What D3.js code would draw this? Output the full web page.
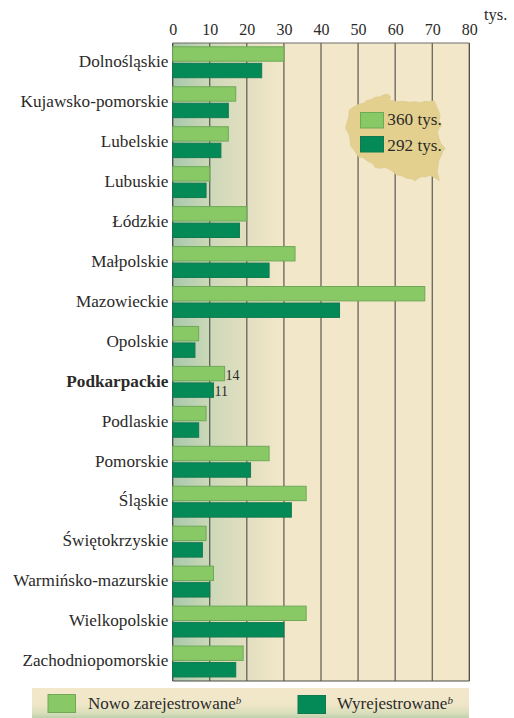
<!DOCTYPE html>
<html><head><meta charset="utf-8">
<script src="https://cdn.jsdelivr.net/npm/d3@7"></script>
<style>html,body{margin:0;padding:0;background:#fff}svg{display:block}text{font-family:"Liberation Serif",serif;fill:#2b2a29}</style>
</head><body><svg id="c" width="514" height="718"></svg>
<script>
const categories=["Dolnośląskie","Kujawsko-pomorskie","Lubelskie","Lubuskie","Łódzkie","Małpolskie","Mazowieckie","Opolskie","Podkarpackie","Podlaskie","Pomorskie","Śląskie","Świętokrzyskie","Warmińsko-mazurskie","Wielkopolskie","Zachodniopomorskie"];
const registered=[30,17,15,10,20,33,68,7,14,9,26,36,9,11,36,19];
const deregistered=[24,15,13,9,18,26,45,6,11,7,21,32,8,10,30,17];
const ticks=[0,10,20,30,40,50,60,70,80];
const labelledRow="Podkarpackie";
const totals=["360 tys.","292 tys."];
const legendNames=["Nowo zarejestrowane","Wyrejestrowane"];
const mapOutline=[[50,190],[56,172],[58,150],[72,140],[85,133],[100,130],[110,122],[125,118],[135,112],[150,110],[160,105],[172,102],[182,110],[178,122],[190,121],[200,125],[220,124],[240,127],[255,125],[270,128],[285,124],[295,125],[312,122],[318,134],[322,145],[328,158],[330,170],[327,182],[335,195],[328,205],[322,215],[326,232],[332,250],[345,265],[338,275],[335,285],[328,298],[325,310],[322,335],[328,362],[312,352],[300,345],[288,351],[275,350],[265,355],[255,362],[243,356],[230,355],[215,347],[200,345],[182,330],[165,322],[150,325],[135,322],[128,310],[115,305],[100,293],[85,290],[74,272],[62,258],[60,240],[58,225],[47,205]];

const svg=d3.select("#c"),defs=svg.append("defs");
const plotL=172.7,plotR=469.3,plotT=43,plotB=681;
const x=d3.scaleLinear().domain([0,80]).range([plotL,plotR]);
const y=d3.scaleBand().domain(categories).range([plotT,plotT+639.2]).paddingInner(0).paddingOuter(0);

const g1=defs.append("linearGradient").attr("id","bg").attr("x1",0).attr("x2",1).attr("y1",0).attr("y2",0);
[[0,"#a8c8ac"],[0.33,"#ccd8b8"],[0.67,"#e3dfc1"],[1,"#f3e7c9"]].forEach(s=>g1.append("stop").attr("offset",s[0]).attr("stop-color",s[1]));
const g2=defs.append("linearGradient").attr("id","band").attr("x1",0).attr("x2",0).attr("y1",0).attr("y2",1);
[[0,"#f4e8cb"],[0.55,"#efe6c8"],[0.85,"#d8ddba"],[1,"#bcd2ae"]].forEach(s=>g2.append("stop").attr("offset",s[0]).attr("stop-color",s[1]));

svg.append("rect").attr("x",plotL).attr("y",plotT).attr("width",plotR-plotL).attr("height",plotB-plotT).attr("fill","#f3e7c9");
svg.append("rect").attr("x",plotL).attr("y",plotT).attr("width",x(30)-plotL).attr("height",plotB-plotT).attr("fill","url(#bg)");

svg.selectAll(".grid").data(ticks).join("line").attr("class","grid").attr("x1",d=>x(d)).attr("x2",d=>x(d)).attr("y1",plotT).attr("y2",plotB).attr("stroke","#3d3d38").attr("stroke-width",d=>(d===0||d===80)?1.2:1);
[[plotT,"#6d6d66"],[plotB,"#4a4a44"]].forEach(v=>svg.append("line").attr("x1",plotL).attr("x2",plotR).attr("y1",v[0]).attr("y2",v[0]).attr("stroke",v[1]).attr("stroke-width",1.2));

const axis=svg.append("g").attr("transform",`translate(0,${plotT})`).call(d3.axisTop(x).tickValues(ticks).tickSize(0).tickPadding(8));
axis.select(".domain").remove();
axis.selectAll("text").attr("font-size",16).style("font-family",'"Liberation Serif",serif').attr("fill","#2b2a29");
svg.append("text").attr("x",484).attr("y",20).attr("font-size",16.5).text("tys.");

const barH=14.4;
const rows=svg.selectAll(".row").data(categories).join("g").attr("class","row").attr("transform",d=>`translate(0,${y(d)})`);
rows.append("rect").attr("x",plotL).attr("y",3.8).attr("width",(d,i)=>x(registered[i])-plotL).attr("height",barH).attr("fill","#88c966").attr("stroke","#6fa958").attr("stroke-width",1);
rows.append("rect").attr("x",plotL).attr("y",20.3).attr("width",(d,i)=>x(deregistered[i])-plotL).attr("height",barH).attr("fill","#038a57").attr("stroke","#12794f").attr("stroke-width",1);
rows.append("text").attr("x",168.5).attr("y",24).attr("text-anchor","end").attr("font-size",17.2).attr("font-weight",d=>d===labelledRow?"bold":"normal").text(d=>d);
rows.filter(d=>d===labelledRow).each(function(d){
  const i=categories.indexOf(d),r=d3.select(this);
  r.append("text").attr("x",x(registered[i])+1).attr("y",17.4).attr("font-size",14).text(registered[i]);
  r.append("text").attr("x",x(deregistered[i])+1).attr("y",33).attr("font-size",14).text(deregistered[i]);
});

const mapX=d3.scaleLinear().domain([0,390]).range([330,460]);
const mapY=d3.scaleLinear().domain([0,390]).range([60,190]);
svg.append("path").attr("d",d3.line().x(d=>mapX(d[0])).y(d=>mapY(d[1])).curve(d3.curveLinearClosed)(mapOutline)).attr("fill","#e3d08f").attr("stroke","#d8c88c").attr("stroke-width",0.6);
[["#88c966","#6fa958",112.5,125],["#038a57","#12794f",136.5,150.7]].forEach((s,i)=>{
  svg.append("rect").attr("x",360.5).attr("y",s[2]).attr("width",23).attr("height",15.5).attr("fill",s[0]).attr("stroke",s[1]);
  svg.append("text").attr("x",387.3).attr("y",s[3]).attr("font-size",17.2).text(totals[i]);
});

svg.append("rect").attr("x",32).attr("y",688).attr("width",437).attr("height",30).attr("fill","url(#band)");
[[48,694.5,"#88c966","#6fa958",88],[298,695.5,"#038a57","#12794f",337]].forEach((s,i)=>{
  svg.append("rect").attr("x",s[0]).attr("y",s[1]).attr("width",27.5).attr("height",18).attr("fill",s[2]).attr("stroke",s[3]);
  const t=svg.append("text").attr("x",s[4]).attr("y",708.5).attr("font-size",17);
  t.append("tspan").text(legendNames[i]);
  t.append("tspan").attr("dy",-5).attr("font-size",11).attr("font-style","italic").text("b");
});
</script></body></html>
